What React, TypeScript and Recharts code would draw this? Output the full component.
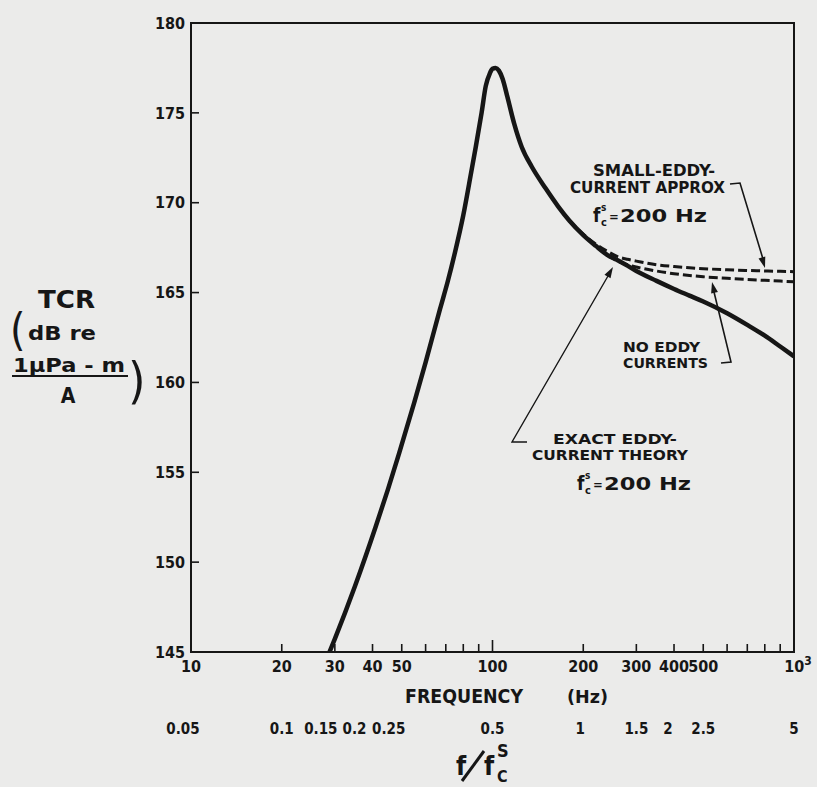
import React from 'react';
import { LineChart, Line, XAxis, YAxis, ReferenceArea } from 'recharts';

// frequency grid (Hz) for the exact eddy-current curve
const freqHz = [
  28.8, 30, 35, 41, 45, 49, 55, 60, 67, 71, 75, 80, 85, 88, 92, 95, 98, 100, 102.5, 105,
  108, 112, 118, 125, 135, 150, 165, 180, 200, 220, 240, 260, 280, 300, 350, 400, 450, 500,
  600, 700, 800, 900, 1000,
];
const exactTheory = [
  145.0, 145.73, 148.67, 151.98, 154.05, 156.05, 158.88, 161.12, 164.09, 165.6, 167.2, 169.3, 171.7,
  173.1, 175.0, 176.5, 177.2, 177.45, 177.5, 177.35, 176.9, 175.9, 174.4, 173.1, 172.0, 170.8,
  169.8, 169.0, 168.2, 167.6, 167.1, 166.8, 166.5, 166.2, 165.65, 165.2, 164.83, 164.5, 163.85,
  163.2, 162.6, 162.0, 161.45,
];
// the two dashed curves only split off above ~200 Hz
const dashedFreqHz = [180, 200, 220, 240, 260, 280, 300, 350, 400, 450, 500, 600, 700, 800, 900, 1000];
const smallEddyApprox = [169.0, 168.25, 167.7, 167.3, 167.0, 166.85, 166.75, 166.55, 166.45, 166.38, 166.33, 166.27, 166.23, 166.2, 166.18, 166.16];
const noEddyCurrents = [169.0, 168.2, 167.6, 167.1, 166.75, 166.55, 166.42, 166.2, 166.05, 165.95, 165.88, 165.8, 165.73, 165.68, 165.64, 165.6];

const xTicks = [10, 20, 30, 40, 50, 60, 70, 80, 90, 100, 200, 300, 400, 500, 600, 700, 800, 900, 1000];
const xTickLabels: Record<number, string> = { 10: '10', 20: '20', 30: '30', 40: '40', 50: '50', 100: '100', 200: '200', 300: '300', 400: '400', 500: '500' };
const ratioLabels: Record<number, string> = { 10: '0.05', 20: '0.1', 30: '0.15', 40: '0.2', 50: '0.25', 100: '0.5', 200: '1', 300: '1.5', 400: '2', 500: '2.5', 1000: '5' };
const yTicks = [145, 150, 155, 160, 165, 170, 175, 180];

const rows = freqHz.map((f, i) => {
  const j = dashedFreqHz.indexOf(f);
  return {
    f,
    exact: exactTheory[i],
    small: j >= 0 ? smallEddyApprox[j] : null,
    none: j >= 0 ? noEddyCurrents[j] : null,
  };
});

const INK = '#161616';
const FONT = '"DejaVu Sans Condensed", "DejaVu Sans", sans-serif';
const ratioShift: Record<number, number> = { 10: -8, 30: -14, 40: -18, 50: -13, 200: -3, 400: -6 };

const XTick = (props: any) => {
  const { x, y, payload } = props;
  const v = payload.value;
  const len = v === 100 ? 12 : 8;
  return (
    <g>
      {v !== 10 && v !== 1000 && <line x1={x} y1={y} x2={x} y2={y - len} stroke={INK} strokeWidth={1.6} />}
      {xTickLabels[v] && (
        <text x={x} y={y + 20} textAnchor="middle" fontFamily={FONT} fontWeight="bold" fontSize={16} fill={INK}>
          {xTickLabels[v]}
        </text>
      )}
      {v === 1000 && (
        <text x={x + 4} y={y + 20} textAnchor="middle" fontFamily={FONT} fontWeight="bold" fontSize={16} fill={INK}>
          10<tspan dy={-7} fontSize={12}>3</tspan>
        </text>
      )}
      {ratioLabels[v] && (
        <text x={x + (ratioShift[v] || 0)} y={y + 82} textAnchor="middle" fontFamily={FONT} fontWeight="bold" fontSize={15} fill={INK}>
          {ratioLabels[v]}
        </text>
      )}
    </g>
  );
};

const YTick = (props: any) => {
  const { x, y, payload } = props;
  const v = payload.value;
  return (
    <g>
      {v !== 145 && v !== 180 && <line x1={x} y1={y} x2={x + 8} y2={y} stroke={INK} strokeWidth={1.6} />}
      <text x={x - 6} y={y} dy="0.36em" textAnchor="end" fontFamily={FONT} fontWeight="bold" fontSize={16} fill={INK}>
        {v}
      </text>
    </g>
  );
};

const arrowHead = (x1: number, y1: number, x2: number, y2: number, len = 11, w = 3.5) => {
  const dx = x2 - x1;
  const dy = y2 - y1;
  const d = Math.hypot(dx, dy);
  const ux = dx / d;
  const uy = dy / d;
  const bx = x2 - ux * len;
  const by = y2 - uy * len;
  return `${x2},${y2} ${bx - uy * w},${by + ux * w} ${bx + uy * w},${by - ux * w}`;
};

const txt = { fontFamily: FONT, fontWeight: 'bold' as const, fill: INK };

const FcLabel = ({ x, y }: { x: number; y: number }) => (
  <g>
    <text x={x} y={y} fontSize={19} {...txt}>f</text>
    <text x={x + 8} y={y - 11} fontSize={10} {...txt}>s</text>
    <text x={x + 8} y={y + 4} fontSize={11} {...txt}>c</text>
    <text x={x + 16} y={y - 1} fontSize={13} {...txt}>=</text>
    <text x={x + 27} y={y} fontSize={17} textLength={87} lengthAdjust="spacingAndGlyphs" {...txt}>200 Hz</text>
  </g>
);

const Overlay = () => (
  <svg width={817} height={787} style={{ position: 'absolute', left: 0, top: 0, pointerEvents: 'none' }}>
    {/* y-axis title */}
    <text x={38} y={308} fontSize={24} textLength={57} lengthAdjust="spacingAndGlyphs" {...txt}>TCR</text>
    <text x={10} y={345} fontSize={44} fontWeight="normal" fontFamily={FONT} fill={INK}>(</text>
    <text x={28} y={340} fontSize={20} textLength={68} lengthAdjust="spacingAndGlyphs" {...txt}>dB re</text>
    <text x={13} y={372} fontSize={20} textLength={112} lengthAdjust="spacingAndGlyphs" {...txt}>1μPa - m</text>
    <line x1={12} y1={376} x2={128} y2={376} stroke={INK} strokeWidth={2} />
    <text x={68} y={403} fontSize={21} textAnchor="middle" {...txt}>A</text>
    <text x={128} y={398} fontSize={50} fontWeight="normal" fontFamily={FONT} fill={INK}>)</text>

    {/* x-axis titles */}
    <text x={405} y={703} fontSize={19} textLength={118} lengthAdjust="spacingAndGlyphs" {...txt}>FREQUENCY</text>
    <text x={567} y={703} fontSize={18} textLength={41} lengthAdjust="spacingAndGlyphs" {...txt}>(Hz)</text>
    <text x={456} y={775} fontSize={26} {...txt}>f</text>
    <line x1={462} y1={781} x2={484} y2={751} stroke={INK} strokeWidth={3} />
    <text x={484} y={775} fontSize={26} {...txt}>f</text>
    <text x={497} y={757} fontSize={18} {...txt}>S</text>
    <text x={497} y={782} fontSize={16} {...txt}>C</text>

    {/* small-eddy-current approximation */}
    <text x={593} y={176} fontSize={15} textLength={122} lengthAdjust="spacingAndGlyphs" {...txt}>SMALL-EDDY-</text>
    <text x={570} y={193} fontSize={15} textLength={155} lengthAdjust="spacingAndGlyphs" {...txt}>CURRENT APPROX</text>
    <FcLabel x={593} y={222} />
    <polyline points="730,184 740,183 763,259" fill="none" stroke={INK} strokeWidth={1.6} />
    <polygon points={arrowHead(740, 183, 765, 268)} fill={INK} />

    {/* no eddy currents */}
    <text x={623} y={352} fontSize={14} textLength={77} lengthAdjust="spacingAndGlyphs" {...txt}>NO EDDY</text>
    <text x={623} y={368} fontSize={14} textLength={85} lengthAdjust="spacingAndGlyphs" {...txt}>CURRENTS</text>
    <polyline points="721,363 731,362 714,292" fill="none" stroke={INK} strokeWidth={1.6} />
    <polygon points={arrowHead(731, 362, 712, 282)} fill={INK} />

    {/* exact eddy-current theory */}
    <text x={553} y={444} fontSize={14} textLength={124} lengthAdjust="spacingAndGlyphs" {...txt}>EXACT EDDY-</text>
    <text x={532} y={460} fontSize={14} textLength={156} lengthAdjust="spacingAndGlyphs" {...txt}>CURRENT THEORY</text>
    <FcLabel x={577} y={490} />
    <polyline points="527,442 512,442 608,276" fill="none" stroke={INK} strokeWidth={1.4} />
    <polygon points={arrowHead(512, 442, 613, 267)} fill={INK} />
  </svg>
);

export default function App() {
  return (
    <div style={{ position: 'absolute', left: 0, top: 0, width: 817, height: 787, background: '#ebebea' }}>
      <LineChart width={817} height={787} data={rows} margin={{ top: 23, right: 23, bottom: 35, left: 131 }}>
        <XAxis
          dataKey="f"
          type="number"
          scale="log"
          domain={[10, 1000]}
          ticks={xTicks}
          interval={0}
          allowDataOverflow
          axisLine={false}
          tickLine={false}
          tickSize={0}
          tickMargin={0}
          height={100}
          tick={(p: any) => <XTick {...p} />}
        />
        <YAxis
          type="number"
          domain={[145, 180]}
          ticks={yTicks}
          interval={0}
          allowDataOverflow
          axisLine={false}
          tickLine={false}
          tickSize={0}
          tickMargin={0}
          width={60}
          tick={(p: any) => <YTick {...p} />}
        />
        <ReferenceArea x1={10} x2={1000} y1={145} y2={180} fill="none" stroke={INK} strokeWidth={2} ifOverflow="visible" />
        <Line dataKey="small" type="monotone" stroke={INK} strokeWidth={3} strokeDasharray="9 4" dot={false} isAnimationActive={false} />
        <Line dataKey="none" type="monotone" stroke={INK} strokeWidth={3} strokeDasharray="9 4" dot={false} isAnimationActive={false} />
        <Line dataKey="exact" type="monotone" stroke={INK} strokeWidth={4.5} dot={false} isAnimationActive={false} />
      </LineChart>
      <Overlay />
    </div>
  );
}
